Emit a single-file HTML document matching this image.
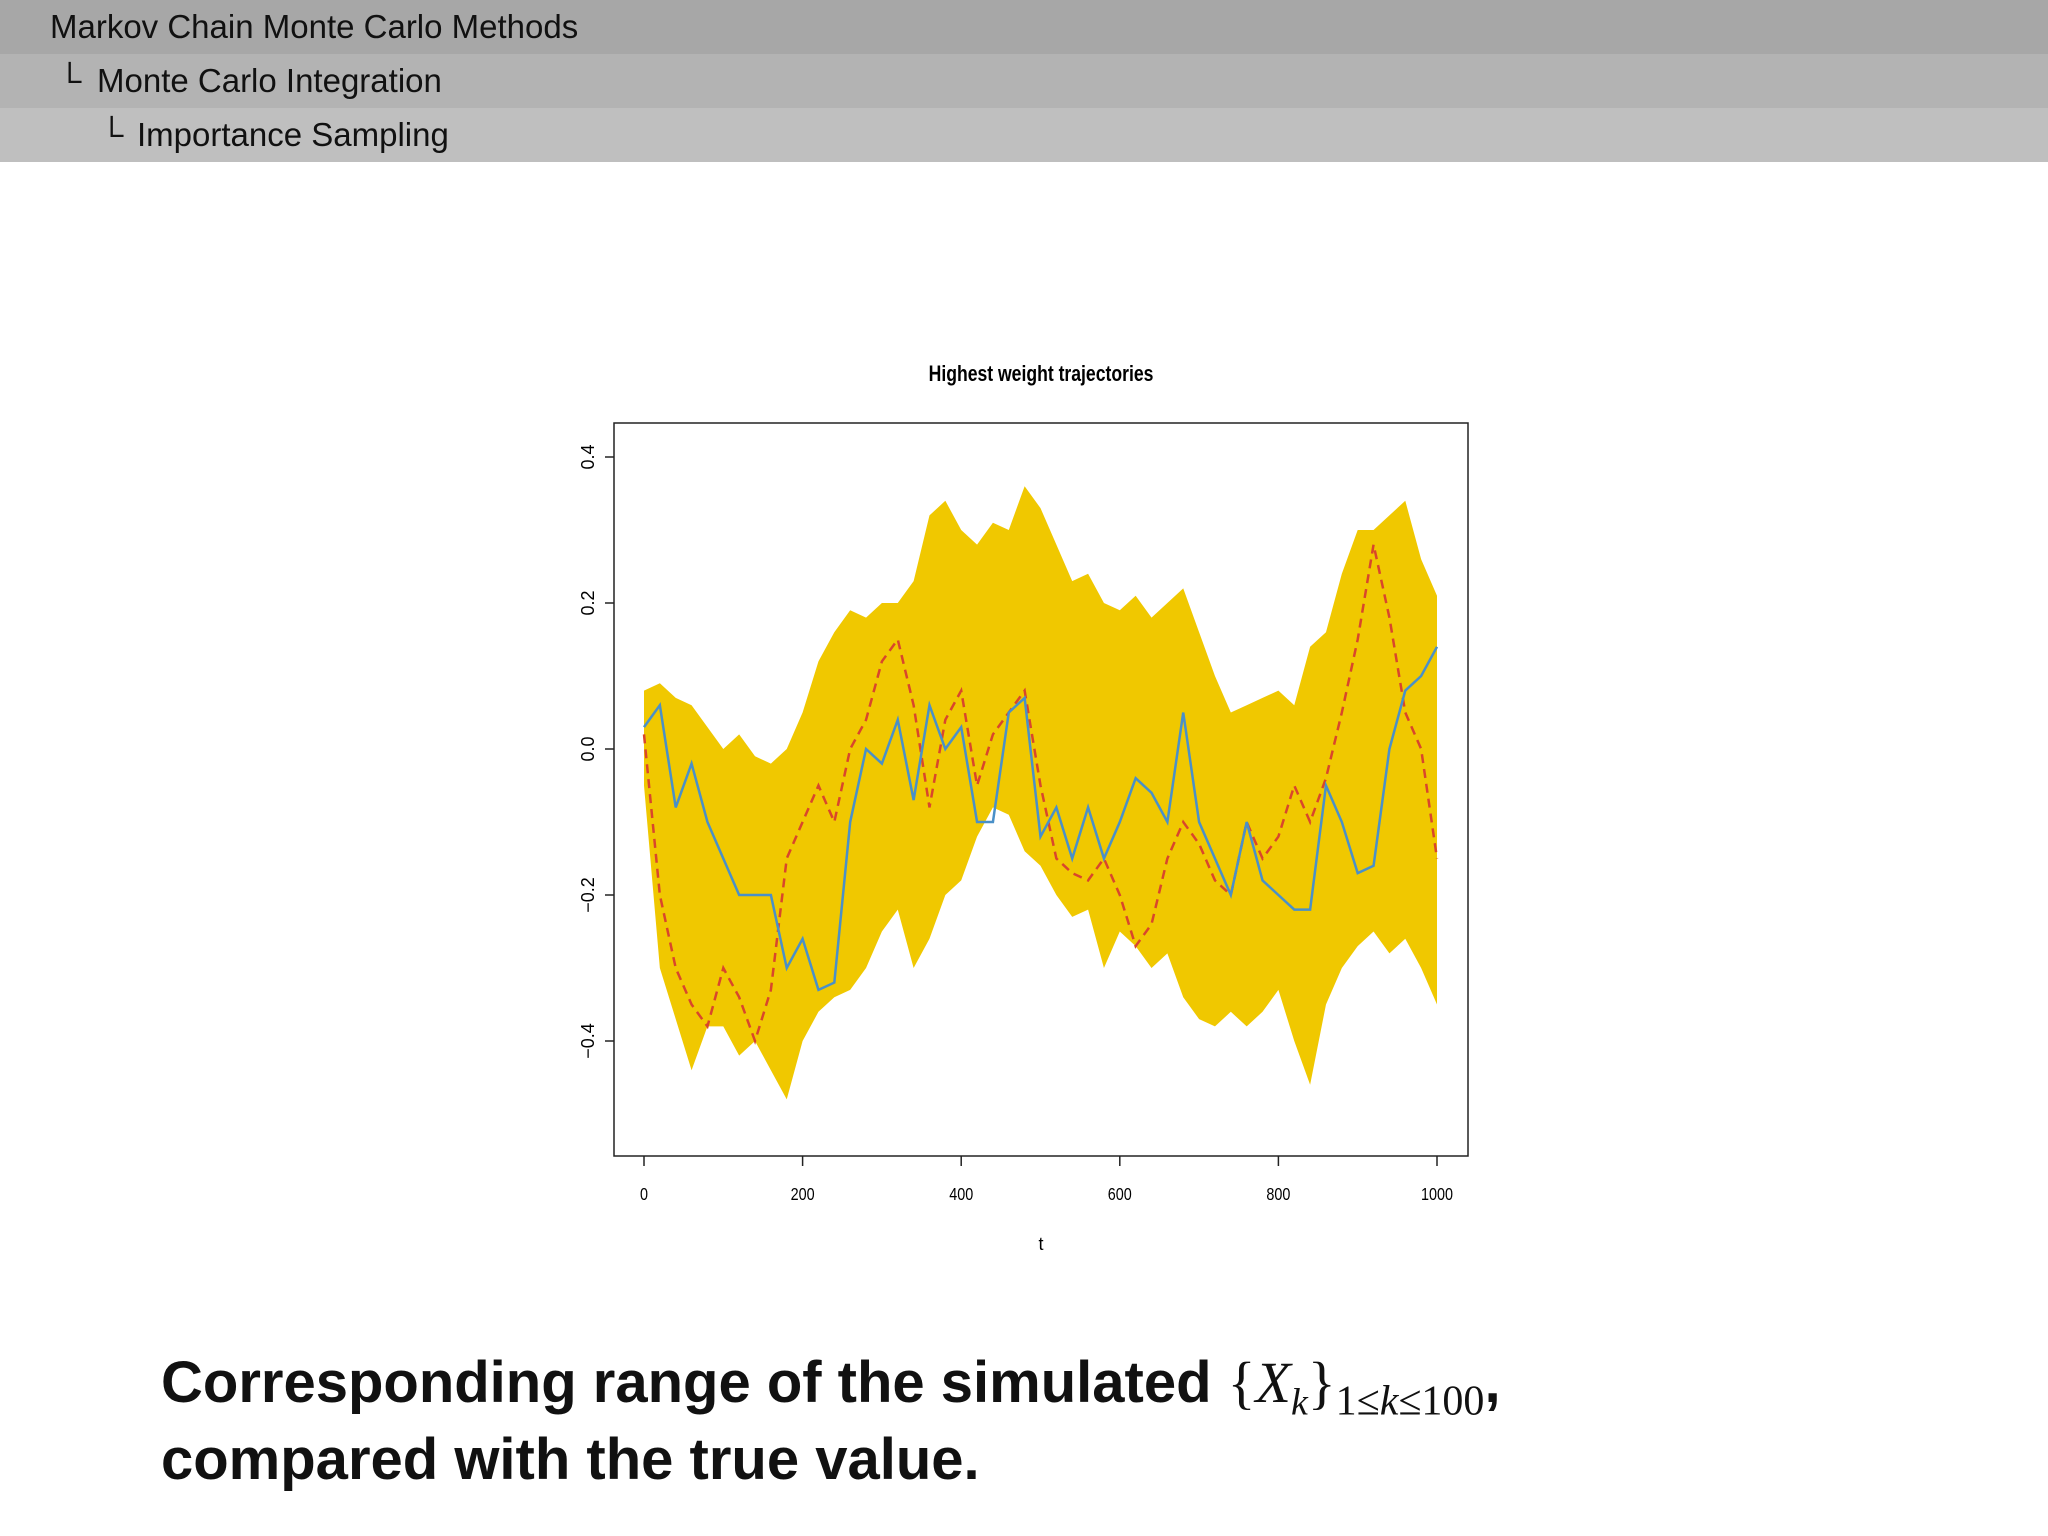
<!DOCTYPE html>
<html><head><meta charset="utf-8"><style>
body{margin:0;width:2048px;height:1536px;background:#fff;position:relative;overflow:hidden;font-family:"Liberation Sans",sans-serif}
.bar{position:absolute;left:0;width:2048px;height:54px;font-size:33px;color:#111;line-height:54px}
.cap{position:absolute;left:161px;font-weight:bold;font-size:58px;color:#111;line-height:77px}
.cap sub{line-height:0}
</style></head><body>
<div class="bar" style="top:0;background:#a7a7a7"><span style="position:absolute;left:50px">Markov Chain Monte Carlo Methods</span></div>
<div class="bar" style="top:54px;background:#b3b3b3"><span style="position:absolute;left:58px">└</span><span style="position:absolute;left:97px">Monte Carlo Integration</span></div>
<div class="bar" style="top:108px;background:#bfbfbf"><span style="position:absolute;left:100px">└</span><span style="position:absolute;left:137px">Importance Sampling</span></div>
<svg id="chart" width="2048" height="1536" style="position:absolute;left:0;top:0" xmlns="http://www.w3.org/2000/svg"></svg>
<div class="cap" style="top:1344px">Corresponding range of the simulated <span style="font-family:'Liberation Serif',serif;font-weight:normal">{<i>X<sub style="font-size:38px">k</sub></i>}<sub style="font-size:42px">1≤<i>k</i>≤100</sub></span>,<br>compared with the true value.</div>
<script>
const tVals=[0,20,40,60,80,100,120,140,160,180,200,220,240,260,280,300,320,340,360,380,400,420,440,460,480,500,520,540,560,580,600,620,640,660,680,700,720,740,760,780,800,820,840,860,880,900,920,940,960,980,1000];
const upper=[0.08,0.09,0.07,0.06,0.03,0.0,0.02,-0.01,-0.02,0.0,0.05,0.12,0.16,0.19,0.18,0.2,0.2,0.23,0.32,0.34,0.30,0.28,0.31,0.30,0.36,0.33,0.28,0.23,0.24,0.20,0.19,0.21,0.18,0.2,0.22,0.16,0.10,0.05,0.06,0.07,0.08,0.06,0.14,0.16,0.24,0.30,0.30,0.32,0.34,0.26,0.21];
const lower=[-0.05,-0.3,-0.37,-0.44,-0.38,-0.38,-0.42,-0.4,-0.44,-0.48,-0.4,-0.36,-0.34,-0.33,-0.3,-0.25,-0.22,-0.3,-0.26,-0.2,-0.18,-0.12,-0.08,-0.09,-0.14,-0.16,-0.2,-0.23,-0.22,-0.3,-0.25,-0.27,-0.3,-0.28,-0.34,-0.37,-0.38,-0.36,-0.38,-0.36,-0.33,-0.4,-0.46,-0.35,-0.3,-0.27,-0.25,-0.28,-0.26,-0.3,-0.35];
const blue=[0.03,0.06,-0.08,-0.02,-0.1,-0.15,-0.2,-0.2,-0.2,-0.3,-0.26,-0.33,-0.32,-0.1,0.0,-0.02,0.04,-0.07,0.06,0.0,0.03,-0.1,-0.1,0.05,0.07,-0.12,-0.08,-0.15,-0.08,-0.15,-0.1,-0.04,-0.06,-0.1,0.05,-0.1,-0.15,-0.2,-0.1,-0.18,-0.2,-0.22,-0.22,-0.05,-0.1,-0.17,-0.16,0.0,0.08,0.1,0.14];
const red=[0.02,-0.2,-0.3,-0.35,-0.38,-0.3,-0.34,-0.4,-0.33,-0.15,-0.1,-0.05,-0.1,0.0,0.04,0.12,0.15,0.06,-0.08,0.04,0.08,-0.05,0.02,0.05,0.08,-0.05,-0.15,-0.17,-0.18,-0.15,-0.2,-0.27,-0.24,-0.15,-0.1,-0.13,-0.18,-0.2,-0.1,-0.15,-0.12,-0.05,-0.1,-0.04,0.05,0.15,0.28,0.18,0.05,0.0,-0.15];
const xTicks=[0,200,400,600,800,1000];
const yTicks=[-0.4,-0.2,0.0,0.2,0.4];
const yLabels=["\u22120.4","\u22120.2","0.0","0.2","0.4"];
const NS="http://www.w3.org/2000/svg";
const svg=document.getElementById('chart');
const X=t=>644+t*0.793, Y=v=>749-v*730;
function mk(tag,attrs,parent){const e=document.createElementNS(NS,tag);for(const k in attrs)e.setAttribute(k,attrs[k]);(parent||svg).appendChild(e);return e;}
let d=tVals.map((t,i)=>(i?'L':'M')+X(t)+','+Y(upper[i])).join('')+tVals.slice().reverse().map((t,j)=>'L'+X(t)+','+Y(lower[tVals.length-1-j])).join('')+'Z';
const band=mk('path',{d:d,fill:'#f0c800'});


const rl=mk('path',{d:tVals.map((t,i)=>(i?'L':'M')+X(t)+','+Y(red[i])).join(''),fill:'none',stroke:'#d9462b','stroke-width':2.5,'stroke-dasharray':'9,6'});


const bl=mk('path',{d:tVals.map((t,i)=>(i?'L':'M')+X(t)+','+Y(blue[i])).join(''),fill:'none',stroke:'#4a90c8','stroke-width':2.5});


const box=mk('rect',{x:614,y:423,width:854,height:733,fill:'none',stroke:'#222','stroke-width':1.5});


xTicks.forEach(t=>{
 const tk=mk('line',{x1:X(t),x2:X(t),y1:1156,y2:1166,stroke:'#222','stroke-width':1.5});
 
 
 const lb=mk('text',{x:X(t),y:1200,'font-size':18,'text-anchor':'middle',transform:`translate(${X(t)},0) scale(0.8,1) translate(${-X(t)},0)`});
 
 
 lb.textContent=t;
});
yTicks.forEach((v,i)=>{
 const tk=mk('line',{x1:605,x2:614,y1:Y(v),y2:Y(v),stroke:'#222','stroke-width':1.5});
 
 
 const lb=mk('text',{x:0,y:0,'font-size':18,'text-anchor':'middle',transform:`translate(594,${Y(v)}) rotate(-90)`});
 
 
 lb.textContent=yLabels[i];
});
const ti=mk('text',{x:0,y:0,'font-size':22,'font-weight':'bold','text-anchor':'middle',transform:'translate(1041,381) scale(0.8,1)'});


ti.textContent='Highest weight trajectories';
const xt=mk('text',{x:1041,y:1250,'font-size':18,'text-anchor':'middle'});


xt.textContent='t';
</script>
</body></html>
